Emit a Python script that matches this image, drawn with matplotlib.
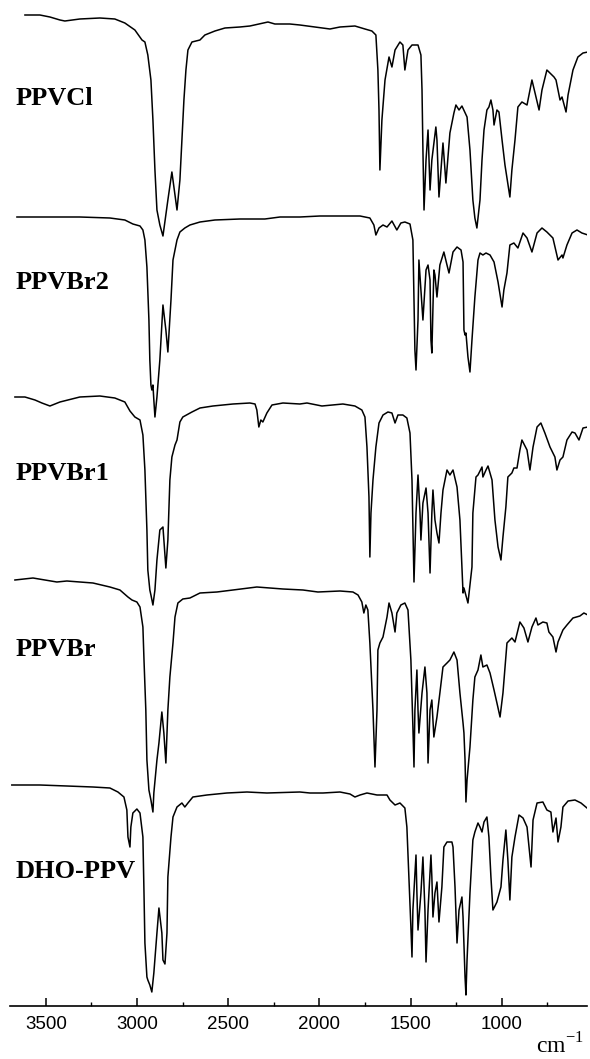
#!/usr/bin/env python3
"""
Stacked FTIR spectra of the PPV derivatives (PPVCl, PPVBr2, PPVBr1, PPVBr, DHO-PPV)
"""

import matplotlib
matplotlib.use("Agg")
import matplotlib.pyplot as plt
from matplotlib.ticker import MultipleLocator

# Sample names, top to bottom
names = ["PPVCl", "PPVBr2", "PPVBr1", "PPVBr", "DHO-PPV"]

# Each trace: wavenumber (cm-1) and transmittance relative to its own baseline (arb. units)
ppvcl_wn = [3615, 3533, 3478, 3423, 3396, 3314, 3204, 3122, 3067, 3012, 2973, 2957, 2941,
            2924, 2913, 2902, 2891, 2875, 2858, 2831, 2809, 2792, 2781, 2765, 2754, 2743,
            2732, 2721, 2699, 2655, 2628, 2573, 2518, 2436, 2381, 2282, 2244, 2162, 2107,
            1942, 1887, 1805, 1750, 1712, 1690, 1679, 1673, 1668, 1657, 1640, 1618, 1602,
            1585, 1558, 1542, 1531, 1514, 1492, 1459, 1443, 1437, 1432, 1426, 1415, 1404,
            1393, 1383, 1361, 1355, 1344, 1322, 1311, 1306, 1284, 1262, 1251, 1234, 1218,
            1190, 1174, 1158, 1147, 1136, 1119, 1108, 1097, 1081, 1070, 1059, 1048, 1042,
            1026, 1015, 998, 982, 971, 955, 944, 927, 911, 889, 861, 834, 817, 795, 779,
            752, 713, 702, 680, 669, 647, 636, 609, 582, 554, 527]
ppvcl_t = [0, 0, -2, -5, -6, -4, -3, -4, -8, -15, -25, -27, -40,
           -65, -105, -155, -195, -210, -221, -185, -157, -180, -195, -165, -125, -85,
           -55, -35, -27, -25, -20, -16, -13, -12, -11, -7, -9, -9, -10,
           -14, -12, -11, -14, -16, -20, -55, -95, -155, -105, -65, -42, -52,
           -35, -27, -30, -55, -35, -30, -30, -40, -75, -135, -195, -145, -115,
           -175, -145, -112, -125, -182, -128, -155, -168, -118, -98, -90, -95, -91,
           -102, -135, -185, -203, -213, -185, -145, -115, -95, -92, -85, -95, -110,
           -95, -97, -125, -150, -163, -182, -155, -125, -92, -87, -90, -65, -78, -95, -75,
           -55, -62, -65, -85, -82, -97, -80, -55, -42, -38, -37]

ppvbr2_wn = [3659, 3533, 3314, 3149, 3067, 3023, 2984, 2968, 2957, 2946, 2935, 2930, 2924,
             2919, 2913, 2908, 2902, 2891, 2875, 2858, 2842, 2831, 2814, 2803, 2781, 2765,
             2738, 2710, 2655, 2573, 2436, 2299, 2216, 2107, 1997, 1777, 1723, 1701, 1690,
             1673, 1651, 1629, 1602, 1575, 1553, 1531, 1503, 1487, 1481, 1476, 1470, 1459,
             1454, 1443, 1432, 1415, 1404, 1393, 1388, 1383, 1372, 1366, 1355, 1339, 1317,
             1300, 1289, 1267, 1245, 1223, 1212, 1207, 1201, 1196, 1185, 1174, 1163, 1147,
             1130, 1119, 1103, 1086, 1064, 1042, 1020, 998, 988, 971, 955, 933, 911, 883,
             861, 834, 806, 779, 752, 719, 691, 669, 664, 642, 614, 587, 560, 527]
ppvbr2_t = [0, 0, 0, -1, -3, -7, -9, -13, -23, -50, -103, -143, -168,
            -173, -168, -183, -200, -180, -143, -88, -113, -135, -83, -43, -23, -15,
            -11, -8, -5, -3, -2, -2, 0, 0, 1, 1, -1, -8, -18,
            -11, -8, -10, -4, -13, -6, -5, -7, -23, -83, -133, -153, -103,
            -43, -73, -103, -53, -48, -63, -123, -136, -53, -58, -80, -48, -35,
            -48, -56, -35, -30, -33, -45, -113, -118, -116, -140, -155, -123, -80,
            -43, -36, -38, -36, -38, -45, -65, -90, -73, -56, -28, -26, -31, -16,
            -21, -35, -16, -11, -15, -21, -43, -38, -41, -28, -16, -13, -16, -18]

ppvbr1_wn = [3670, 3615, 3560, 3522, 3478, 3423, 3314, 3204, 3122, 3067, 3039, 3012, 2984,
             2968, 2957, 2946, 2941, 2930, 2924, 2913, 2902, 2891, 2875, 2858, 2842, 2831,
             2820, 2809, 2792, 2781, 2765, 2749, 2699, 2655, 2584, 2474, 2381, 2353, 2343,
             2332, 2321, 2310, 2288, 2260, 2200, 2107, 2068, 1986, 1871, 1805, 1767, 1750,
             1739, 1728, 1723, 1717, 1706, 1690, 1673, 1651, 1624, 1602, 1585, 1569, 1542,
             1520, 1503, 1492, 1481, 1470, 1459, 1448, 1443, 1432, 1415, 1404, 1393, 1383,
             1377, 1366, 1355, 1344, 1333, 1322, 1300, 1284, 1267, 1245, 1229, 1218, 1212,
             1207, 1185, 1163, 1158, 1141, 1130, 1108, 1103, 1086, 1075, 1053, 1037, 1020,
             1004, 993, 977, 966, 944, 933, 916, 900, 889, 861, 845, 828, 806, 785, 763,
             735, 708, 697, 680, 664, 642, 614, 598, 576, 554, 527]
ppvbr1_t = [0, 0, -3, -6, -9, -5, 0, 1, -1, -5, -14, -20, -23,
            -38, -73, -133, -173, -193, -198, -208, -193, -163, -133, -130, -171, -143,
            -83, -60, -48, -43, -25, -20, -15, -11, -9, -7, -6, -7, -13,
            -30, -23, -25, -16, -8, -6, -7, -6, -9, -7, -9, -13, -20,
            -50, -100, -160, -116, -83, -50, -26, -18, -15, -16, -26, -18, -18,
            -21, -36, -83, -185, -116, -78, -116, -143, -106, -91, -116, -176, -116,
            -93, -123, -136, -146, -116, -93, -73, -78, -73, -90, -123, -170, -196,
            -191, -206, -170, -116, -80, -78, -70, -80, -73, -69, -83, -123, -150,
            -163, -140, -110, -80, -76, -71, -71, -53, -43, -53, -73, -50, -30, -26, -36,
            -50, -60, -73, -63, -60, -43, -35, -36, -43, -31, -30]

ppvbr_wn = [3670, 3571, 3440, 3385, 3242, 3149, 3094, 3050, 3028, 3001, 2984, 2968, 2962,
            2952, 2946, 2935, 2924, 2913, 2908, 2891, 2880, 2864, 2853, 2842, 2831, 2820,
            2803, 2792, 2776, 2749, 2710, 2655, 2562, 2474, 2343, 2200, 2090, 2008, 1887,
            1816, 1788, 1767, 1756, 1745, 1734, 1723, 1706, 1695, 1684, 1679, 1668, 1651,
            1629, 1618, 1602, 1585, 1575, 1553, 1531, 1514, 1498, 1487, 1481, 1476, 1465,
            1459, 1454, 1437, 1421, 1410, 1404, 1393, 1383, 1372, 1355, 1339, 1322, 1300,
            1284, 1262, 1245, 1229, 1212, 1207, 1201, 1196, 1190, 1174, 1158, 1147, 1130,
            1114, 1103, 1081, 1064, 1042, 1026, 1009, 993, 971, 944, 927, 900, 878, 856,
            834, 812, 801, 774, 752, 741, 719, 702, 691, 664, 642, 609, 571, 549, 527]
ppvbr_t = [0, 2, -2, -1, -3, -7, -10, -17, -20, -22, -27, -47, -80,
           -130, -180, -210, -220, -232, -213, -180, -163, -132, -153, -183, -130, -97,
           -63, -37, -23, -19, -18, -13, -12, -10, -7, -9, -10, -12, -11,
           -12, -15, -22, -33, -25, -30, -63, -130, -187, -130, -70, -63, -57,
           -37, -23, -33, -52, -33, -25, -23, -30, -80, -147, -187, -130, -90,
           -130, -153, -113, -87, -113, -183, -130, -120, -157, -137, -113, -87, -83,
           -80, -72, -80, -113, -143, -153, -180, -222, -200, -167, -120, -97, -90,
           -75, -87, -85, -93, -110, -123, -137, -113, -63, -58, -62, -42, -48, -62,
           -47, -38, -45, -42, -43, -52, -57, -72, -62, -50, -45, -38, -36, -33, -35]

dhoppv_wn = [3687, 3533, 3385, 3242, 3149, 3105, 3072, 3056, 3050, 3039, 3034, 3023, 3001,
             2984, 2968, 2962, 2957, 2946, 2941, 2930, 2919, 2908, 2891, 2880, 2864, 2858,
             2847, 2836, 2831, 2814, 2803, 2781, 2754, 2738, 2721, 2694, 2617, 2507, 2397,
             2288, 2107, 2052, 1980, 1887, 1832, 1805, 1777, 1739, 1684, 1629, 1613, 1585,
             1558, 1531, 1520, 1509, 1498, 1492, 1487, 1470, 1465, 1459, 1443, 1432, 1421,
             1415, 1404, 1388, 1383, 1377, 1366, 1355, 1344, 1328, 1317, 1300, 1273, 1267,
             1256, 1245, 1234, 1218, 1212, 1201, 1196, 1190, 1174, 1158, 1147, 1130, 1119,
             1108, 1097, 1081, 1070, 1059, 1048, 1026, 1004, 993, 977, 966, 955, 944, 927,
             905, 883, 861, 850, 839, 828, 806, 774, 752, 730, 719, 702, 691, 675, 664,
             636, 598, 565, 532]
dhoppv_t = [0, 0, -1, -2, -3, -7, -12, -25, -52, -62, -42, -28, -24,
            -28, -52, -108, -158, -192, -195, -200, -207, -188, -148, -123, -148, -175,
            -179, -148, -92, -52, -32, -22, -18, -22, -18, -12, -10, -8, -7,
            -8, -7, -8, -8, -7, -9, -12, -10, -8, -10, -10, -15, -20,
            -18, -23, -42, -92, -142, -172, -125, -70, -108, -145, -108, -72, -125,
            -177, -125, -70, -92, -132, -108, -97, -137, -102, -62, -57, -57, -62,
            -102, -158, -125, -112, -132, -192, -210, -175, -108, -55, -47, -38, -42,
            -47, -37, -32, -52, -92, -125, -117, -102, -75, -45, -75, -115, -72, -52,
            -30, -33, -42, -62, -82, -35, -18, -17, -25, -27, -47, -33, -57, -42, -22,
            -16, -15, -18, -23]

spectra_wn = [ppvcl_wn, ppvbr2_wn, ppvbr1_wn, ppvbr_wn, dhoppv_wn]
spectra_t = [ppvcl_t, ppvbr2_t, ppvbr1_t, ppvbr_t, dhoppv_t]

# vertical offsets of the stacked traces (arb. units)
offsets = [991, 789, 609, 426, 221]
label_y = [908, 724, 533, 356, 134]

fig = plt.figure(figsize=(5.9, 10.59), dpi=100)
ax = fig.add_axes([10 / 590, 53 / 1059, 577 / 590, 1006 / 1059])

for wn, t, off in zip(spectra_wn, spectra_t, offsets):
    ax.plot(wn, [off + v for v in t], color="black", lw=1.1, solid_joinstyle="round")

for name, ly in zip(names, label_y):
    ax.text(3665, ly, name, fontsize=19, fontweight="bold", family="Liberation Serif",
            ha="left", va="center")

ax.set_xlim(3697, 532)
ax.set_ylim(0, 1006)

# only the bottom axis is shown
for side in ["top", "left", "right"]:
    ax.spines[side].set_visible(False)
ax.spines["bottom"].set_linewidth(1.2)
ax.set_yticks([])

ax.xaxis.set_major_locator(MultipleLocator(500))
ax.xaxis.set_minor_locator(MultipleLocator(250))
ax.tick_params(axis="x", which="major", direction="in", length=6, width=1.1, pad=7,
               labelsize=13.5)
ax.tick_params(axis="x", which="minor", direction="in", length=3, width=1.0)
for lbl in ax.get_xticklabels():
    lbl.set_family("Liberation Sans")

fig.text(0.99, 1 - 1046 / 1059, r"cm$^{\mathregular{-1}}$", fontsize=17,
         family="Liberation Serif", ha="right", va="center")

plt.savefig("out.png", dpi=100)
